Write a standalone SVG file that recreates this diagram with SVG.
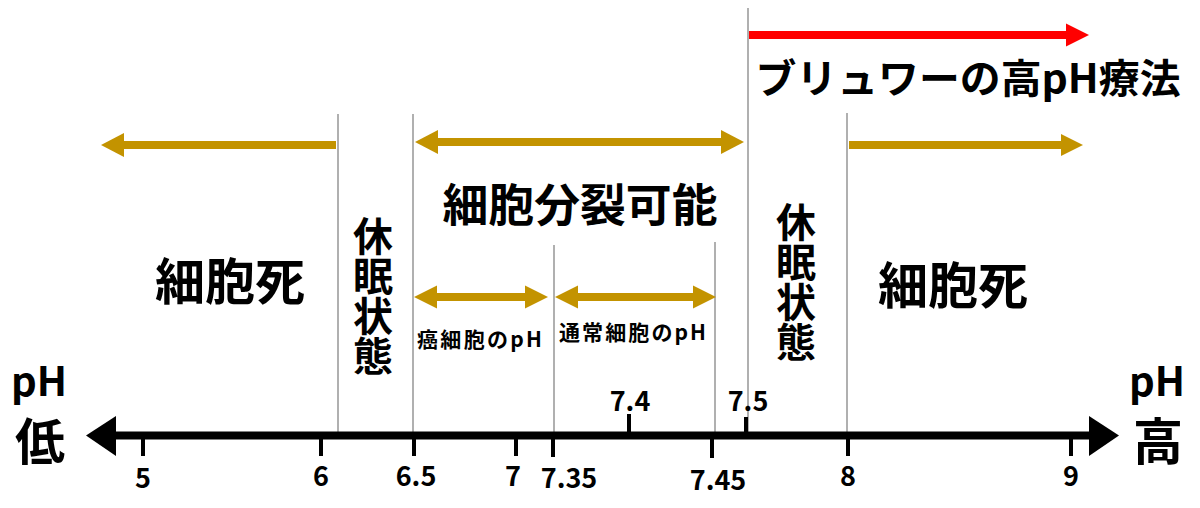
<svg xmlns="http://www.w3.org/2000/svg" width="1200" height="508" viewBox="0 0 1200 508">
<style>
text{font-family:"Noto Sans CJK JP","Noto Sans",sans-serif;font-weight:bold;fill:#000}
.num{font-size:27px;text-anchor:middle}
.big{font-size:50px;text-anchor:middle}
.vert{font-size:40px;writing-mode:vertical-rl;text-orientation:upright}
.small{font-size:21px}
.guide{stroke:#b0b0b0;stroke-width:2}
.gold{stroke:#C39300;stroke-width:8}
.goldh{fill:#C39300}
.tick{stroke:#000;stroke-width:4}
</style>
<rect width="1200" height="508" fill="#fff"/>
<g id="guides">
<line class="guide" x1="338" y1="114" x2="338" y2="435"/>
<line class="guide" x1="413" y1="114" x2="413" y2="435"/>
<line class="guide" x1="554" y1="245" x2="554" y2="435"/>
<line class="guide" x1="715" y1="242" x2="715" y2="435"/>
<line class="guide" x1="748" y1="8" x2="748" y2="435"/>
<line class="guide" x1="847" y1="113" x2="847" y2="435"/>
</g>
<g id="axis">
<line x1="112" y1="435.5" x2="1092" y2="435.5" stroke="#000" stroke-width="8"/>
<polygon points="86,435.5 116,416 116,456" fill="#000"/>
<polygon points="1119,435.5 1089,416 1089,456" fill="#000"/>
<line class="tick" x1="143" y1="436" x2="143" y2="456"/>
<line class="tick" x1="321" y1="436" x2="321" y2="456"/>
<line class="tick" x1="414" y1="436" x2="414" y2="456"/>
<line class="tick" x1="516" y1="436" x2="516" y2="456"/>
<line class="tick" x1="553" y1="436" x2="553" y2="457"/>
<line class="tick" x1="629" y1="414" x2="629" y2="436"/>
<line class="tick" x1="712" y1="436" x2="712" y2="458"/>
<line class="tick" x1="746" y1="417" x2="746" y2="436"/>
<line class="tick" x1="848" y1="436" x2="848" y2="456"/>
<line class="tick" x1="1071" y1="436" x2="1071" y2="456"/>
</g>
<g id="axis-labels">
<text class="num" x="143" y="488">5</text>
<text class="num" x="321" y="486">6</text>
<text class="num" x="416" y="486">6.5</text>
<text class="num" x="513" y="486">7</text>
<text class="num" x="569" y="488">7.35</text>
<text class="num" x="718" y="490">7.45</text>
<text class="num" x="630" y="411">7.4</text>
<text class="num" x="748" y="411">7.5</text>
<text class="num" x="848" y="486">8</text>
<text class="num" x="1071" y="486">9</text>
<text x="39" y="396" font-size="40" text-anchor="middle">pH</text>
<text x="40" y="460" font-size="50" text-anchor="middle">低</text>
<text x="1157" y="396" font-size="40" text-anchor="middle">pH</text>
<text x="1158" y="460" font-size="50" text-anchor="middle">高</text>
</g>
<g id="arrows">
<line class="gold" x1="336" y1="145" x2="120" y2="145"/>
<polygon class="goldh" points="101,145 124,133 124,157"/>
<line class="gold" x1="434" y1="142" x2="725" y2="142"/>
<polygon class="goldh" points="415,142 438,130 438,154"/>
<polygon class="goldh" points="744,142 721,130 721,154"/>
<line class="gold" x1="849" y1="145" x2="1065" y2="145"/>
<polygon class="goldh" points="1083,145 1061,134 1061,156"/>
<line stroke="#ff0000" stroke-width="8" x1="749" y1="35" x2="1070" y2="35"/>
<polygon fill="#ff0000" points="1089,35 1066,23.5 1066,46.5"/>
<line class="gold" x1="434" y1="297" x2="528" y2="297" stroke-width="7"/>
<polygon class="goldh" points="414,297 437,285.5 437,308.5"/>
<polygon class="goldh" points="548,297 525,285.5 525,308.5"/>
<line class="gold" x1="575" y1="297" x2="696" y2="297" stroke-width="7"/>
<polygon class="goldh" points="555,297 578,285.5 578,308.5"/>
<polygon class="goldh" points="716,297 693,285.5 693,308.5"/>
</g>
<g id="title">
<text x="968" y="93" font-size="40" text-anchor="middle" textLength="425" lengthAdjust="spacingAndGlyphs">ブリュワーの高pH療法</text>
</g>
<g id="division">
<text x="580" y="222" font-size="45" text-anchor="middle" textLength="275" lengthAdjust="spacingAndGlyphs">細胞分裂可能</text>
</g>
<g id="cancer">
<text class="small" x="417" y="347" textLength="125" lengthAdjust="spacing">癌細胞のpH</text>
</g>
<g id="normal">
<text class="small" x="559" y="340" textLength="147" lengthAdjust="spacing">通常細胞のpH</text>
</g>
<g id="death-left">
<text class="big" x="230" y="300">細胞死</text>
</g>
<g id="death-right">
<text class="big" x="953" y="304">細胞死</text>
</g>
<g id="dormant-left">
<text class="vert" x="373" y="216">休眠状態</text>
</g>
<g id="dormant-right">
<text class="vert" x="796" y="202">休眠状態</text>
</g>
</svg>
